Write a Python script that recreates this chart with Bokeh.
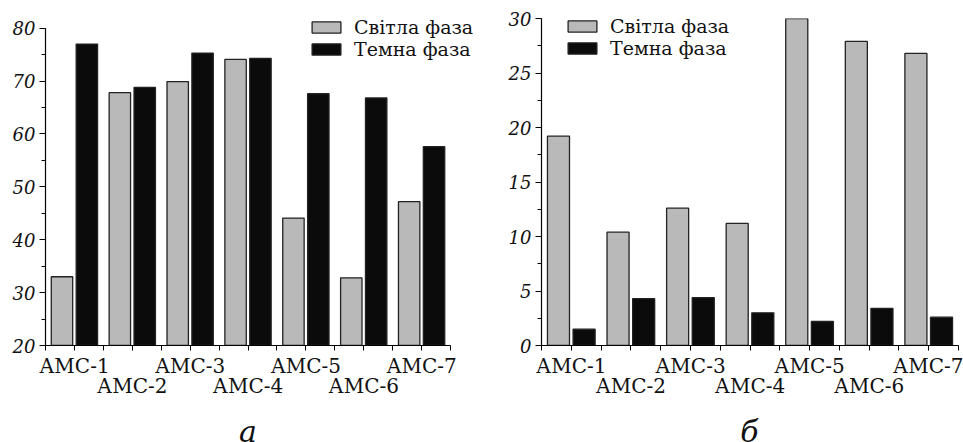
from bokeh.plotting import figure
from bokeh.layouts import row, column
from bokeh.models import (Range1d, FixedTicker, SingleIntervalTicker, LinearAxis,
                          ColumnDataSource, Legend, LegendItem)
from bokeh.core.properties import value
from bokeh.transform import dodge
from bokeh.embed import file_html
from bokeh.resources import INLINE

labels = ["АМС-1", "АМС-2", "АМС-3", "АМС-4", "АМС-5", "АМС-6", "АМС-7"]
idx = [1, 2, 3, 4, 5, 6, 7]
series_names = ["Світла фаза", "Темна фаза"]
a_light = [33.0, 67.8, 69.9, 74.1, 44.1, 32.8, 47.2]
a_dark = [77.0, 68.8, 75.3, 74.3, 67.6, 66.8, 57.6]
b_light = [19.2, 10.4, 12.6, 11.2, 31.0, 27.9, 26.8]
b_dark = [1.5, 4.3, 4.4, 3.0, 2.2, 3.4, 2.6]
panel_titles = ["а", "б"]

GRAY = "#b9b9b9"
BLACK = "#0b0b0b"
INK = "#111111"
FONT = "DejaVu Serif"
MAIN_H = 400
LET_H = 442 - MAIN_H


def make(light, dark, yr, ybounds, xend, interval, width, left, right, top, bottom,
         legend_loc):
    src = ColumnDataSource(dict(x=idx, light=light, dark=dark))
    p = figure(width=width, height=MAIN_H, output_backend="svg", toolbar_location=None,
               x_range=Range1d(0.5, xend), y_range=Range1d(*yr),
               min_border_left=left, min_border_right=right,
               min_border_top=top, min_border_bottom=bottom, outline_line_color=None)
    p.grid.visible = False
    r1 = p.vbar(x=dodge("x", -0.215), top="light", bottom=ybounds[0], width=0.37,
                source=src, fill_color=GRAY, line_color="#222222", line_width=1.3)
    r2 = p.vbar(x=dodge("x", 0.215), top="dark", bottom=ybounds[0], width=0.37,
                source=src, fill_color=BLACK, line_color="#222222", line_width=1.3)

    # y axis
    ya = p.yaxis[0]
    ya.bounds = ybounds
    ya.ticker = SingleIntervalTicker(interval=interval, num_minor_ticks=2)
    ya.major_label_text_font = FONT
    ya.major_label_text_font_style = "italic"
    ya.major_label_text_font_size = "18px"
    ya.major_label_text_color = INK
    ya.major_tick_in = 0
    ya.major_tick_out = 6
    ya.minor_tick_in = 0
    ya.minor_tick_out = 4
    ya.axis_line_width = 1.2
    ya.major_label_standoff = 4

    # x axis - first row of labels
    xa = p.xaxis[0]
    xa.bounds = (0.5, 7.5)
    xa.ticker = FixedTicker(ticks=idx, minor_ticks=[i + 0.5 for i in range(0, 8)])
    xa.major_label_overrides = {i: (labels[i - 1] if i % 2 == 1 else "") for i in idx}
    xa.major_label_text_font = FONT
    xa.major_label_text_font_size = "20px"
    xa.major_label_text_color = INK
    xa.major_tick_in = 0
    xa.major_tick_out = 5
    xa.minor_tick_in = 0
    xa.minor_tick_out = 5
    xa.axis_line_width = 1.2
    xa.major_label_standoff = 3
    xa.axis_label_standoff = 0

    # second row of labels
    xb = LinearAxis(ticker=FixedTicker(ticks=[2, 4, 6], minor_ticks=[]),
                    bounds=(0.5, 7.5),
                    major_label_overrides={i: labels[i - 1] for i in [2, 4, 6]},
                    axis_line_color=None, major_tick_line_color=None,
                    minor_tick_line_color=None, major_tick_out=0, major_tick_in=0,
                    minor_tick_out=0, minor_tick_in=0, axis_label_standoff=0,
                    major_label_text_font=FONT, major_label_text_font_size="20px",
                    major_label_text_color=INK, major_label_standoff=-7)
    p.add_layout(xb, "below")

    legend = Legend(items=[LegendItem(label=series_names[0], renderers=[r1]),
                           LegendItem(label=series_names[1], renderers=[r2])],
                    location=legend_loc, border_line_color=None,
                    background_fill_alpha=0, padding=0, margin=0, spacing=-4,
                    glyph_width=36, glyph_height=14, label_standoff=10,
                    label_text_font=FONT, label_text_font_size="19px",
                    label_text_color=INK, label_height=20)
    p.add_layout(legend)
    return p


def letter(txt, width, xc):
    q = figure(width=width, height=LET_H, output_backend="svg",
               toolbar_location=None, x_range=Range1d(0, width),
               y_range=Range1d(0, LET_H), min_border=0,
               x_axis_location=None, y_axis_location=None, outline_line_color=None)
    q.grid.visible = False
    q.text(x=[xc], y=[11], text=[txt], text_font=value(FONT), text_font_style="italic",
           text_font_size="30px", text_color=INK, text_align="center",
           text_baseline="alphabetic")
    return q


p1 = make(a_light, a_dark, (20, 81.83), (20, 80), 8.018, 10, 480, 45, 0, 10,
          MAIN_H - 348, (263, 285))
p2 = make(b_light, b_dark, (0, 30), (0, 30), 7.5, 5, 483, 61, 5, 18,
          MAIN_H - 349, (23, 286))
p3 = letter(panel_titles[0], 480, 247.5)
p4 = letter(panel_titles[1], 483, 749 - 480)

layout = column(row(p1, p2), row(p3, p4))
open("out.html", "w").write(file_html(layout, INLINE))
